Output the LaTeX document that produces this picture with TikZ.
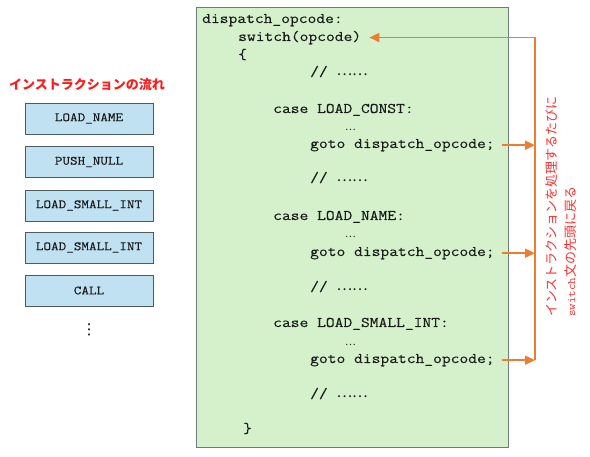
\documentclass[tikz,border=0pt]{standalone}
\usepackage{fontspec}
\setmonofont[FakeStretch=1.16,FakeBold=0.3]{Latin Modern Mono}
\newfontfamily\jp{Noto Sans CJK JP}
\newfontfamily\dejavu{DejaVu Sans}
\newfontfamily\labelmono[FakeStretch=1.1]{Latin Modern Mono}
\usetikzlibrary{arrows.meta}
\definecolor{codebg}{HTML}{D4F1CC}
\definecolor{codeborder}{HTML}{6B7B80}
\definecolor{instbg}{HTML}{BFE1F2}
\definecolor{instborder}{HTML}{4D5A60}
\definecolor{titlered}{HTML}{FF1A1A}
\definecolor{labelred}{HTML}{FF3030}
\definecolor{arrowor}{HTML}{ED7D31}
\definecolor{codetext}{HTML}{1A1A1A}
\newcommand{\dotsjp}{{\jp ……}}
\newcommand{\onedot}{{\jp\fontsize{10}{10}\selectfont …}}
\tikzset{
  x=1pt,y=-1pt,
  codeline/.style={anchor=base west,inner sep=0pt,font=\fontsize{14.7}{17}\ttfamily,text=codetext},
  instbox/.style={draw=instborder,fill=instbg,line width=0.9pt,minimum width=128pt,minimum height=31pt,inner sep=0pt,font=\fontsize{12.7}{14}\ttfamily,text=codetext},
  retarrow/.style={draw=arrowor,line width=1.8pt,-{Triangle[length=10pt,width=9pt]}},
}
\begin{document}
\begin{tikzpicture}
\useasboundingbox (0,0) rectangle (590,457);
% code box
\node[draw=codeborder,fill=codebg,line width=0.9pt,minimum width=312pt,minimum height=440pt,inner sep=0pt,anchor=north west] (codebox) at (196,7) {};
% code lines
\node[codeline] (l1) at (202,23) {dispatch\_opcode:};
\node[codeline] (sw) at (238,41) {switch(opcode)};
\node[codeline] (l3) at (238,59) {\{};
\node[codeline] (c1) at (310,76) {// \dotsjp};
\node[codeline] (l5) at (273,113) {case LOAD\_CONST:};
\node[codeline] (e1) at (345,131) {\onedot};
\node[codeline] (goto1) at (310,148) {goto dispatch\_opcode;};
\node[codeline] (c2) at (310,182) {// \dotsjp};
\node[codeline] (l9) at (273,220) {case LOAD\_NAME:};
\node[codeline] (e2) at (345,238) {\onedot};
\node[codeline] (goto2) at (310,256) {goto dispatch\_opcode;};
\node[codeline] (c3) at (310,291) {// \dotsjp};
\node[codeline] (l13) at (273,327) {case LOAD\_SMALL\_INT:};
\node[codeline] (e3) at (345,346) {\onedot};
\node[codeline] (goto3) at (310,363) {goto dispatch\_opcode;};
\node[codeline] (c4) at (310,398) {// \dotsjp};
\node[codeline] (l17) at (243,433) {\}};
% instruction flow
\node[anchor=west,inner sep=0pt,font=\jp\bfseries\fontsize{13}{15}\selectfont,text=titlered] (title) at (9,85) {インストラクションの流れ};
\node[instbox] (i1) at (89,118.5) {LOAD\_NAME};
\node[instbox] (i2) at (89,162) {PUSH\_NULL};
\node[instbox] (i3) at (89,205.5) {LOAD\_SMALL\_INT};
\node[instbox] (i4) at (89,247.5) {LOAD\_SMALL\_INT};
\node[instbox] (i5) at (89,290.5) {CALL};
\node[inner sep=0pt,font=\dejavu\fontsize{15}{15}\selectfont,text=black] (dots) at (89,330) {⋮};
% arrows
\coordinate (vx) at (535,0);
\draw[retarrow] (goto3.east -| vx) -- (sw.east -| vx) -- ([xshift=8pt]sw.east);
\draw[retarrow] ([xshift=7pt]goto1.east) -- (goto1.east -| vx);
\draw[retarrow] ([xshift=7pt]goto2.east) -- (goto2.east -| vx);
\draw[retarrow] ([xshift=7pt]goto3.east) -- (goto3.east -| vx);
% label
\node[rotate=90,anchor=north west,align=left,inner sep=0pt,font=\jp\fontsize{13}{19}\selectfont,text=labelred] (label) at (545,317) {インストラクションを処理するたびに\\{\labelmono\fontsize{11.5}{19}\selectfont switch}文の先頭に戻る};
\end{tikzpicture}
\end{document}
